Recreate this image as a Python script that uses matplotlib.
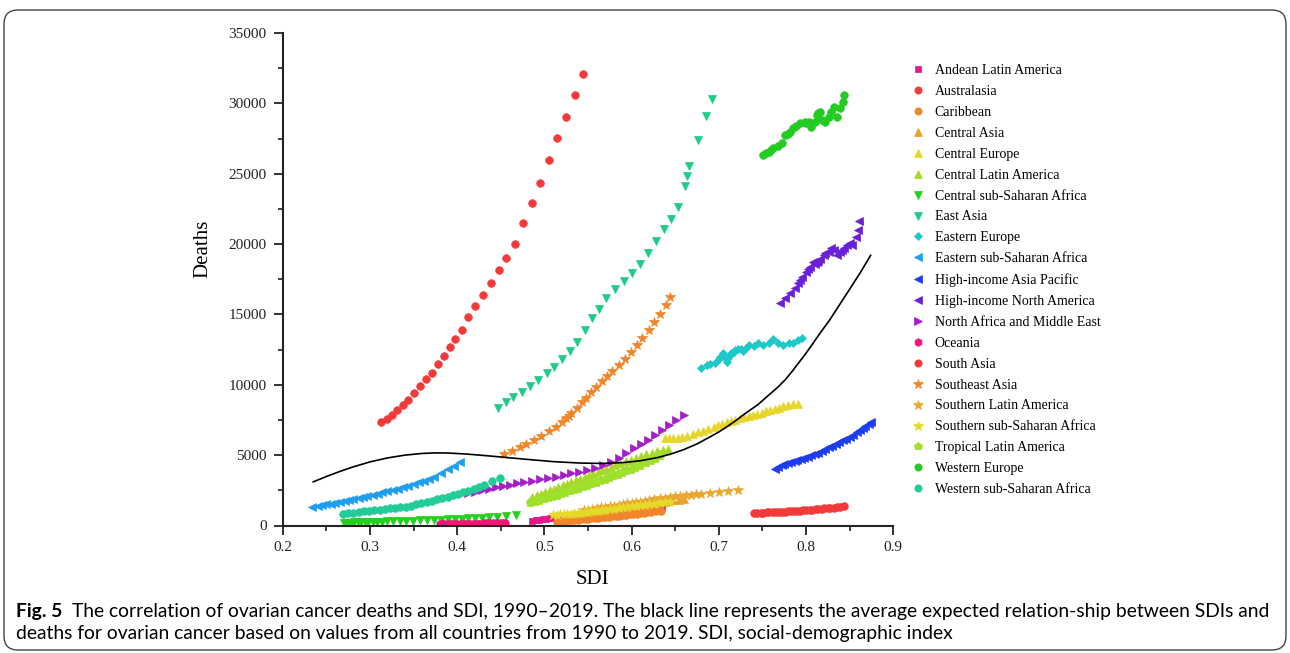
import matplotlib
matplotlib.use("Agg")
import matplotlib.pyplot as plt
from matplotlib.patches import FancyBboxPatch
from matplotlib.transforms import IdentityTransform
from matplotlib.ticker import MultipleLocator

plt.rcParams['font.family'] = ['Liberation Serif', 'DejaVu Serif']

# ---- data (SDI, deaths), 1990-2019 ----
andean_sdi = [0.486, 0.490, 0.494, 0.498, 0.502, 0.506, 0.510, 0.515, 0.520, 0.525, 0.530, 0.535, 0.540, 0.545, 0.550,
              0.555, 0.560, 0.565, 0.570, 0.575, 0.580, 0.585, 0.590, 0.596, 0.602, 0.608, 0.614, 0.620, 0.627, 0.635]
andean_deaths = [330, 370, 410, 440, 470, 500, 520, 545, 570, 595, 615, 640, 665, 690, 715,
                 740, 770, 800, 830, 860, 890, 925, 960, 995, 1035, 1080, 1130, 1180, 1230, 1280]

austral_sdi = [0.740, 0.744, 0.748, 0.751, 0.755, 0.758, 0.762, 0.765, 0.769, 0.772, 0.776, 0.779, 0.783, 0.786, 0.790,
               0.793, 0.797, 0.800, 0.804, 0.807, 0.811, 0.814, 0.818, 0.821, 0.825, 0.828, 0.832, 0.835, 0.839, 0.843]
austral_deaths = [900, 905, 910, 915, 925, 930, 940, 950, 960, 970, 980, 995, 1010, 1025, 1040,
                  1055, 1070, 1090, 1110, 1130, 1150, 1170, 1190, 1210, 1230, 1250, 1270, 1300, 1340, 1370]

carib_sdi = [0.514, 0.518, 0.522, 0.526, 0.530, 0.534, 0.538, 0.542, 0.546, 0.550, 0.554, 0.558, 0.562, 0.566, 0.570,
             0.574, 0.578, 0.582, 0.586, 0.590, 0.594, 0.598, 0.602, 0.606, 0.610, 0.614, 0.618, 0.622, 0.628, 0.634]
carib_deaths = [250, 280, 310, 335, 360, 385, 410, 435, 460, 485, 510, 535, 560, 585, 610,
                635, 660, 685, 710, 735, 760, 785, 810, 840, 870, 900, 930, 960, 1000, 1050]

casia_sdi = [0.535, 0.539, 0.543, 0.547, 0.551, 0.555, 0.559, 0.563, 0.567, 0.571, 0.575, 0.579, 0.583, 0.587, 0.591,
             0.595, 0.599, 0.603, 0.607, 0.611, 0.615, 0.619, 0.623, 0.628, 0.633, 0.638, 0.643, 0.648, 0.654, 0.660]
casia_deaths = [850, 880, 910, 940, 975, 1010, 1045, 1080, 1115, 1150, 1185, 1220, 1255, 1290, 1320,
                1350, 1385, 1420, 1455, 1490, 1525, 1560, 1595, 1630, 1665, 1700, 1740, 1780, 1815, 1850]

ceu_sdi = [0.638, 0.643, 0.648, 0.653, 0.658, 0.664, 0.670, 0.676, 0.682, 0.688, 0.694, 0.699, 0.704, 0.709, 0.714,
           0.719, 0.724, 0.729, 0.734, 0.739, 0.744, 0.749, 0.754, 0.759, 0.764, 0.769, 0.774, 0.779, 0.785, 0.791]
ceu_deaths = [6185, 6200, 6220, 6250, 6300, 6390, 6500, 6620, 6740, 6870, 7000, 7110, 7220, 7330, 7430,
              7530, 7620, 7700, 7780, 7870, 7950, 8030, 8110, 8200, 8290, 8380, 8460, 8530, 8600, 8670]

cla_sdi = [0.486, 0.491, 0.496, 0.501, 0.506, 0.511, 0.516, 0.521, 0.526, 0.531, 0.536, 0.541, 0.546, 0.551, 0.556,
           0.561, 0.566, 0.571, 0.576, 0.581, 0.587, 0.593, 0.599, 0.605, 0.611, 0.617, 0.623, 0.629, 0.636, 0.642]
cla_deaths = [2050, 2160, 2270, 2380, 2490, 2610, 2730, 2850, 2970, 3090, 3210, 3330, 3450, 3570, 3690,
              3810, 3930, 4050, 4170, 4290, 4420, 4550, 4680, 4810, 4940, 5060, 5170, 5270, 5370, 5470]

cssa_sdi = [0.270, 0.274, 0.278, 0.282, 0.286, 0.290, 0.294, 0.298, 0.303, 0.308, 0.314, 0.320, 0.327, 0.334, 0.341,
            0.349, 0.357, 0.365, 0.373, 0.381, 0.389, 0.397, 0.405, 0.413, 0.421, 0.429, 0.437, 0.446, 0.456, 0.468]
cssa_deaths = [190, 200, 210, 215, 225, 230, 240, 250, 255, 265, 275, 285, 300, 315, 330,
               350, 365, 385, 405, 425, 445, 465, 490, 515, 540, 565, 595, 630, 670, 730]

easia_sdi = [0.447, 0.456, 0.464, 0.474, 0.483, 0.493, 0.503, 0.511, 0.520, 0.529, 0.537, 0.546, 0.555, 0.563, 0.571,
             0.581, 0.591, 0.601, 0.610, 0.619, 0.628, 0.637, 0.645, 0.653, 0.661, 0.663, 0.666, 0.676, 0.685, 0.692]
easia_deaths = [8360, 8765, 9100, 9475, 9900, 10330, 10830, 11250, 11800, 12410, 13050, 13860, 14715, 15400, 16160,
                16800, 17350, 17960, 18600, 19340, 20230, 21060, 21775, 22650, 24140, 24850, 25560, 27370, 29075, 30285]

eeu_sdi = [0.680, 0.686, 0.690, 0.696, 0.700, 0.701, 0.705, 0.706, 0.709, 0.710, 0.713, 0.714, 0.717, 0.718, 0.722,
           0.725, 0.728, 0.731, 0.734, 0.740, 0.745, 0.751, 0.757, 0.762, 0.768, 0.774, 0.780, 0.785, 0.791, 0.795]
eeu_deaths = [11160, 11400, 11450, 11520, 11800, 11985, 12230, 12000, 11630, 11900, 12105, 12250, 12340, 12450, 12510,
              12550, 12410, 12600, 12820, 12750, 12940, 12820, 12980, 13220, 12940, 12820, 12940, 12980, 13170, 13360]

essa_sdi = [0.234, 0.240, 0.245, 0.250, 0.255, 0.260, 0.266, 0.271, 0.276, 0.281, 0.287, 0.292, 0.297, 0.303, 0.309,
            0.314, 0.320, 0.326, 0.332, 0.338, 0.344, 0.350, 0.356, 0.362, 0.368, 0.373, 0.381, 0.390, 0.396, 0.403]
essa_deaths = [1320, 1380, 1440, 1500, 1560, 1620, 1690, 1750, 1820, 1890, 1960, 2030, 2110, 2190, 2270,
               2350, 2440, 2530, 2620, 2720, 2830, 2940, 3060, 3190, 3330, 3455, 3700, 3980, 4215, 4520]

hiap_sdi = [0.764, 0.768, 0.772, 0.775, 0.779, 0.783, 0.787, 0.790, 0.794, 0.798, 0.802, 0.806, 0.810, 0.814, 0.818,
            0.822, 0.826, 0.830, 0.834, 0.838, 0.842, 0.846, 0.850, 0.854, 0.858, 0.862, 0.865, 0.868, 0.872, 0.875]
hiap_deaths = [4050, 4150, 4280, 4380, 4450, 4520, 4600, 4680, 4760, 4830, 4900, 4980, 5050, 5180, 5300,
               5420, 5550, 5680, 5800, 5920, 6050, 6180, 6320, 6460, 6620, 6780, 6930, 7070, 7220, 7365]

hina_sdi = [0.770, 0.776, 0.782, 0.787, 0.791, 0.793, 0.795, 0.800, 0.802, 0.805, 0.808, 0.810, 0.812, 0.814, 0.816,
            0.820, 0.822, 0.826, 0.829, 0.832, 0.835, 0.839, 0.841, 0.844, 0.847, 0.850, 0.853, 0.857, 0.859, 0.861]
hina_deaths = [15825, 16140, 16490, 16850, 17200, 17450, 17670, 18030, 18200, 18380, 18740, 18600, 18740, 18820, 18910,
               19215, 19330, 19450, 19690, 19580, 19215, 19450, 19600, 19690, 19925, 20050, 19925, 20515, 20990, 21655]

name_sdi = [0.413, 0.421, 0.429, 0.437, 0.445, 0.453, 0.461, 0.469, 0.477, 0.486, 0.495, 0.504, 0.513, 0.522, 0.531,
            0.540, 0.549, 0.558, 0.567, 0.576, 0.585, 0.594, 0.603, 0.611, 0.619, 0.627, 0.635, 0.643, 0.651, 0.660]
name_deaths = [2275, 2380, 2490, 2600, 2710, 2810, 2900, 2990, 3080, 3180, 3280, 3380, 3480, 3580, 3700,
               3830, 3970, 4120, 4300, 4500, 4800, 5150, 5500, 5800, 6100, 6450, 6800, 7150, 7500, 7840]

oce_sdi = [0.380, 0.383, 0.385, 0.388, 0.390, 0.393, 0.395, 0.398, 0.400, 0.403, 0.405, 0.408, 0.410, 0.413, 0.415,
           0.418, 0.420, 0.423, 0.425, 0.428, 0.430, 0.433, 0.435, 0.438, 0.441, 0.444, 0.447, 0.450, 0.452, 0.455]
oce_deaths = [90, 92, 95, 97, 100, 102, 105, 107, 110, 112, 115, 118, 120, 123, 126,
              129, 132, 135, 138, 141, 144, 147, 151, 155, 159, 163, 167, 171, 176, 180]

sasia_sdi = [0.313, 0.319, 0.325, 0.331, 0.338, 0.344, 0.351, 0.357, 0.364, 0.371, 0.378, 0.385, 0.392, 0.398, 0.406,
             0.413, 0.421, 0.430, 0.439, 0.448, 0.456, 0.466, 0.475, 0.486, 0.495, 0.505, 0.515, 0.525, 0.535, 0.544]
sasia_deaths = [7320, 7560, 7840, 8175, 8550, 8910, 9385, 9900, 10380, 10850, 11445, 12035, 12700, 13265, 13860,
                14810, 15590, 16390, 17225, 18130, 18980, 19975, 21470, 22910, 24355, 25950, 27530, 29000, 30610, 32080]

seasia_sdi = [0.454, 0.463, 0.472, 0.479, 0.488, 0.496, 0.505, 0.513, 0.520, 0.525, 0.528, 0.531, 0.537, 0.543, 0.548,
              0.553, 0.559, 0.566, 0.572, 0.578, 0.585, 0.592, 0.599, 0.606, 0.612, 0.620, 0.626, 0.633, 0.639, 0.644]
seasia_deaths = [5070, 5300, 5545, 5780, 6065, 6370, 6725, 7010, 7320, 7650, 7800, 7960, 8320, 8745, 9070,
                 9455, 9830, 10240, 10610, 10990, 11395, 11820, 12300, 12820, 13290, 13860, 14450, 15040, 15640, 16210]

sla_sdi = [0.545, 0.550, 0.555, 0.560, 0.565, 0.570, 0.575, 0.580, 0.585, 0.590, 0.595, 0.600, 0.605, 0.610, 0.615,
           0.620, 0.626, 0.632, 0.638, 0.644, 0.650, 0.656, 0.662, 0.668, 0.674, 0.680, 0.690, 0.700, 0.711, 0.722]
sla_deaths = [1080, 1130, 1180, 1230, 1280, 1330, 1380, 1420, 1470, 1520, 1570, 1620, 1660, 1700, 1750,
              1800, 1860, 1920, 1980, 2030, 2070, 2110, 2150, 2190, 2230, 2270, 2320, 2380, 2450, 2530]

sssa_sdi = [0.510, 0.514, 0.518, 0.522, 0.526, 0.530, 0.534, 0.538, 0.542, 0.546, 0.550, 0.554, 0.558, 0.562, 0.566,
            0.570, 0.575, 0.580, 0.585, 0.590, 0.595, 0.600, 0.605, 0.610, 0.615, 0.620, 0.626, 0.632, 0.638, 0.644]
sssa_deaths = [750, 770, 790, 810, 830, 850, 870, 895, 920, 945, 970, 1000, 1030, 1060, 1090,
               1120, 1160, 1200, 1240, 1280, 1320, 1360, 1400, 1440, 1480, 1520, 1560, 1600, 1650, 1700]

tla_sdi = [0.484, 0.489, 0.494, 0.499, 0.504, 0.509, 0.514, 0.519, 0.524, 0.529, 0.534, 0.539, 0.544, 0.549, 0.554,
           0.559, 0.564, 0.569, 0.574, 0.579, 0.584, 0.589, 0.594, 0.599, 0.604, 0.610, 0.616, 0.622, 0.627, 0.632]
tla_deaths = [1650, 1740, 1830, 1920, 2010, 2100, 2200, 2300, 2400, 2500, 2600, 2700, 2800, 2900, 3000,
              3110, 3220, 3330, 3440, 3560, 3680, 3800, 3920, 4050, 4180, 4320, 4480, 4640, 4820, 5000]

weu_sdi = [0.751, 0.754, 0.757, 0.760, 0.762, 0.768, 0.772, 0.776, 0.779, 0.782, 0.785, 0.789, 0.793, 0.799, 0.800,
           0.803, 0.806, 0.810, 0.812, 0.814, 0.816, 0.818, 0.822, 0.826, 0.829, 0.832, 0.835, 0.839, 0.842, 0.844]
weu_deaths = [26320, 26450, 26560, 26680, 26800, 26960, 27160, 27745, 27850, 27980, 28220, 28385, 28580, 28690, 28620,
              28690, 28335, 28690, 29170, 29300, 29400, 28810, 28690, 29050, 29400, 29760, 29050, 29645, 30110, 30590]

wssa_sdi = [0.269, 0.275, 0.281, 0.287, 0.293, 0.299, 0.305, 0.311, 0.317, 0.323, 0.329, 0.335, 0.341, 0.347, 0.353,
            0.359, 0.365, 0.371, 0.377, 0.383, 0.389, 0.395, 0.401, 0.407, 0.413, 0.419, 0.425, 0.431, 0.440, 0.449]
wssa_deaths = [850, 880, 920, 960, 1000, 1040, 1080, 1120, 1170, 1210, 1250, 1290, 1340, 1420, 1500,
               1590, 1680, 1770, 1860, 1960, 2050, 2140, 2240, 2360, 2480, 2600, 2720, 2880, 3150, 3410]

# expected relationship (black line)
curve_sdi = [0.235, 0.25, 0.265, 0.28, 0.30, 0.32, 0.34, 0.36, 0.375, 0.39, 0.41, 0.43, 0.45, 0.48, 0.51, 0.54,
             0.565, 0.59, 0.61, 0.63, 0.645, 0.66, 0.675, 0.69, 0.70, 0.71, 0.72, 0.73, 0.745, 0.755, 0.768,
             0.776, 0.784, 0.792, 0.80, 0.808, 0.817, 0.827, 0.838, 0.85, 0.862, 0.874]
curve_deaths = [3100, 3480, 3830, 4150, 4520, 4800, 5000, 5120, 5160, 5150, 5080, 4980, 4870, 4700, 4540, 4440,
                4410, 4470, 4600, 4830, 5080, 5400, 5800, 6300, 6650, 7050, 7480, 7950, 8600, 9150, 9850,
                10350, 10950, 11600, 12250, 12950, 13750, 14600, 15650, 16800, 17950, 19200]

# name, x, y, marker, colour, size
series = [
    ("Andean Latin America", andean_sdi, andean_deaths, "s", "#E6168C", 5.0),
    ("Australasia", austral_sdi, austral_deaths, "o", "#F23A3A", 5.5),
    ("Caribbean", carib_sdi, carib_deaths, "o", "#F0852A", 5.5),
    ("Central Asia", casia_sdi, casia_deaths, "^", "#E8A02A", 6.0),
    ("Central Europe", ceu_sdi, ceu_deaths, "^", "#E6D62A", 6.0),
    ("Central Latin America", cla_sdi, cla_deaths, "^", "#A8D82A", 6.0),
    ("Central sub-Saharan Africa", cssa_sdi, cssa_deaths, "v", "#22D11E", 6.0),
    ("East Asia", easia_sdi, easia_deaths, "v", "#1ECC88", 6.0),
    ("Eastern Europe", eeu_sdi, eeu_deaths, "D", "#1EC8C8", 4.5),
    ("Eastern sub-Saharan Africa", essa_sdi, essa_deaths, "<", "#1E9EF0", 6.0),
    ("High-income Asia Pacific", hiap_sdi, hiap_deaths, "<", "#1E3CF0", 6.0),
    ("High-income North America", hina_sdi, hina_deaths, "<", "#6A1ED8", 6.0),
    ("North Africa and Middle East", name_sdi, name_deaths, ">", "#A41EC8", 6.0),
    ("Oceania", oce_sdi, oce_deaths, "h", "#F01678", 6.0),
    ("South Asia", sasia_sdi, sasia_deaths, "o", "#F23A3A", 5.5),
    ("Southeast Asia", seasia_sdi, seasia_deaths, "*", "#F0852A", 7.5),
    ("Southern Latin America", sla_sdi, sla_deaths, "*", "#E8A830", 7.5),
    ("Southern sub-Saharan Africa", sssa_sdi, sssa_deaths, "*", "#E6DA28", 7.5),
    ("Tropical Latin America", tla_sdi, tla_deaths, "p", "#9EE02A", 6.5),
    ("Western Europe", weu_sdi, weu_deaths, "o", "#22CC22", 5.5),
    ("Western sub-Saharan Africa", wssa_sdi, wssa_deaths, "o", "#22CC99", 5.5),
]

W, H = 1290, 653
fig = plt.figure(figsize=(W / 100, H / 100), dpi=100)
ax = fig.add_axes([282.7 / W, 1 - 525.5 / H, (893.3 - 282.7) / W, (525.5 - 33) / H])

for name, xs, ys, mk, col, ms in series:
    ax.plot(xs, ys, ls="none", marker=mk, ms=ms, color=col, mec=col, mew=0.5, label=name)

ax.plot(curve_sdi, curve_deaths, color="black", lw=1.2, zorder=5)

ax.set_xlim(0.2, 0.9)
ax.set_ylim(0, 35000)
ax.xaxis.set_major_locator(MultipleLocator(0.1))
ax.xaxis.set_minor_locator(MultipleLocator(0.05))
ax.yaxis.set_major_locator(MultipleLocator(5000))
ax.yaxis.set_minor_locator(MultipleLocator(2500))
ax.set_xticklabels([f"{v:.1f}" for v in ax.get_xticks()])
for s in ("top", "right"):
    ax.spines[s].set_visible(False)
for s in ("left", "bottom"):
    ax.spines[s].set_linewidth(1.5)
    ax.spines[s].set_color("#222222")
ax.tick_params(which="major", direction="out", length=6.5, width=1.3, labelsize=11, pad=5, colors="#222222")
ax.tick_params(which="minor", direction="out", length=3.6, width=1.2, colors="#222222")

fig.text(203 / W, 1 - 249 / H, "Deaths", rotation=90, ha="center", va="center", fontsize=15)
fig.text(592 / W, 1 - 580 / H, "SDI", ha="center", va="center", fontsize=15)

ax.legend(loc="upper left", bbox_to_anchor=(911 / W, 1 - 64 / H), bbox_transform=fig.transFigure,
          frameon=False, fontsize=10, handlelength=1.0, handletextpad=0.7, borderpad=0,
          borderaxespad=0, labelspacing=0.57, numpoints=1, markerscale=0.95)

# rounded frame around figure + caption
frame = FancyBboxPatch((4, 3), 1282, 640, boxstyle="round,pad=0,rounding_size=14",
                       transform=IdentityTransform(), fill=False, ec="#444444", lw=1.0)
fig.add_artist(frame)

cap_font = ["Lato", "DejaVu Sans"]
line1 = "The correlation of ovarian cancer deaths and SDI, 1990\u20132019. The black line represents the average expected relation-ship between SDIs and"
line2 = "deaths for ovarian cancer based on values from all countries from 1990 to 2019. SDI, social-demographic index"
fs = 13.9
t0 = fig.text(16 / W, 1 - 611 / H, "Fig. 5", family=cap_font, weight="bold", fontsize=fs, va="center")
r = fig.canvas.get_renderer()
bb = t0.get_window_extent(renderer=r)
fig.text((bb.x1 + 10) / W, 1 - 611 / H, line1, family=cap_font, fontsize=fs, va="center")
fig.text(16 / W, 1 - 634 / H, line2, family=cap_font, fontsize=fs, va="center")

fig.savefig("out.png", dpi=100)
